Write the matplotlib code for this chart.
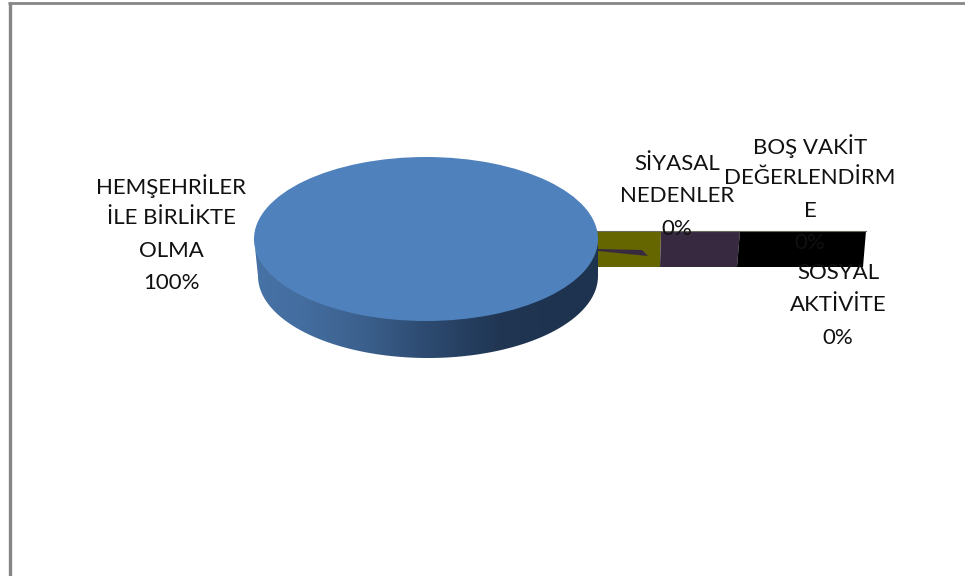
import numpy as np
import matplotlib
matplotlib.use("Agg")
import matplotlib.pyplot as plt
from matplotlib.patches import Polygon

# --- data ---
categories = ["HEMŞEHRİLER\nİLE BİRLİKTE\nOLMA", "SİYASAL\nNEDENLER",
              "BOŞ VAKİT\nDEĞERLENDİRM\nE", "SOSYAL\nAKTİVİTE"]
values = [100, 0, 0, 0]
percents = ["100%", "0%", "0%", "0%"]

W, H = 965, 576
plt.rcParams['font.family'] = ['Lato', 'DejaVu Sans']
fig = plt.figure(figsize=(W / 100, H / 100), dpi=100, facecolor='white')

# pixel-space canvas
bg = fig.add_axes([0, 0, 1, 1])
bg.set_xlim(0, W)
bg.set_ylim(H, 0)
bg.axis('off')

# chart frame
bg.plot([9.5, 9.5], [2, H], color='#868686', lw=2.4, solid_capstyle='butt', zorder=1)
bg.plot([8, W], [3, 3], color='#868686', lw=2.0, solid_capstyle='butt', zorder=1)

# collapsed zero-value slices seen as strips behind the pie
bg.add_patch(Polygon([(590, 231), (661, 231), (660, 267), (590, 267)], fc='#666600', ec='none', zorder=2))
bg.add_patch(Polygon([(661, 231), (740, 231), (737, 267), (660, 267)], fc='#372A40', ec='none', zorder=2))
bg.add_patch(Polygon([(740, 231), (866, 231), (863, 267), (737, 267)], fc='#000000', ec='none', zorder=2))
bg.plot([598, 866], [231, 231], color='#6a6a60', lw=0.8, zorder=2)
bg.add_patch(Polygon([(598, 249), (642, 250), (648, 256), (598, 251)], fc='#372A40', ec='none', zorder=3))

# side wall of the 3D pie, with horizontal gradient
cx, cy, rx, ry = 426, 239, 172, 82
depth = 37
t = np.linspace(0, np.pi, 200)
top_x = cx + rx * np.cos(t)
top_y = cy + ry * np.sin(t)
bot_x = cx + 2 + (rx - 2) * np.cos(t)
bot_y = cy + depth + ry * np.sin(t)
wall = np.column_stack([np.r_[top_x, bot_x[::-1]], np.r_[top_y - 1, bot_y[::-1]]])
stops_x = [254, 300, 360, 430, 500, 560, 598]
stops_c = [(0x47, 0x72, 0xA6), (0x44, 0x6E, 0xA0), (0x3C, 0x61, 0x8E),
           (0x2C, 0x49, 0x6F), (0x20, 0x36, 0x53), (0x1E, 0x33, 0x4F), (0x1E, 0x33, 0x4F)]
xs = np.arange(254, 600)
grad = np.stack([np.interp(xs, stops_x, [c[i] for c in stops_c]) for i in range(3)], axis=-1)[None, ...] / 255
im = bg.imshow(grad, extent=(254, 600, 360, 230), aspect='auto', zorder=4, interpolation='bilinear')
clip = Polygon(wall, transform=bg.transData, fc='none', ec='none')
bg.add_patch(clip)
im.set_clip_path(clip)
bg.set_xlim(0, W)
bg.set_ylim(H, 0)

# pie top, squeezed to an ellipse by its own axes
pie_ax = fig.add_axes([(cx - rx) / W, 1 - (cy + ry) / H, 2 * rx / W, 2 * ry / H])
pie_ax.pie(values, colors=['#4F81BD', '#666600', '#372A40', '#000000'], radius=1,
           startangle=0, wedgeprops={'linewidth': 0})
pie_ax.set_aspect('auto')
pie_ax.set_xlim(-1, 1)
pie_ax.set_ylim(-1, 1)
pie_ax.patch.set_alpha(0)
pie_ax.set_zorder(5)

# labels
anchors = [(171, 186), (677, 164), (810, 146), (838, 273)]
pitch = 32.4
fs = 16
overlay = fig.add_axes([0, 0, 1, 1])
overlay.set_xlim(0, W)
overlay.set_ylim(H, 0)
overlay.axis('off')
overlay.patch.set_alpha(0)
overlay.set_zorder(6)
for cat, pct, (ax_x, ax_y) in zip(categories, percents, anchors):
    for i, line in enumerate(cat.split('\n') + [pct]):
        overlay.text(ax_x, ax_y + i * pitch, line, ha='center', va='center',
                     fontsize=fs, color='#111111')

fig.savefig('out.png', dpi=100, facecolor='white')
